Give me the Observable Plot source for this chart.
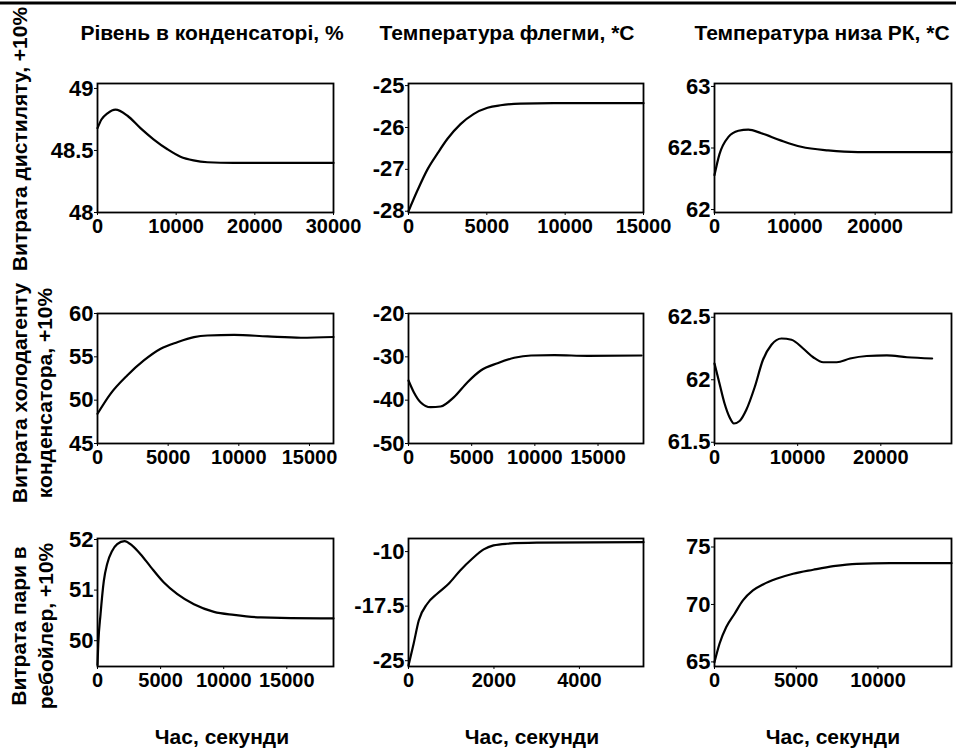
<!DOCTYPE html>
<html><head><meta charset="utf-8">
<script src="https://cdn.jsdelivr.net/npm/d3@7"></script>
<script src="https://cdn.jsdelivr.net/npm/@observablehq/plot@0.6"></script>
<style>
body{margin:0;background:#fff}
#chart{position:relative;width:956px;height:751px;overflow:hidden;background:#fff;font-family:"Liberation Sans",Arial,sans-serif}
#chart svg{position:absolute}
</style>
</head><body><div id="chart"></div>
<script>
// ---- texts ----
const colTitles = ["Рівень в конденсаторі, %", "Температура флегми, *C", "Температура низа РК, *C"];
const rowLabels = [["Витрата дистиляту, +10%"], ["Витрата холодагенту", "конденсатора, +10%"], ["Витрата пари в", "ребойлер, +10%"]];
const xAxisLabel = "Час, секунди";

// ---- data (time, s ; value) ----
const t11 = [0, 500, 1270, 2290, 3810, 5460, 7120, 8890, 10550, 12200, 13980, 17280, 30000];
const v11 = [48.68, 48.75, 48.80, 48.83, 48.78, 48.68, 48.59, 48.51, 48.45, 48.42, 48.405, 48.40, 48.40];
const t12 = [0, 575, 1213, 1852, 2490, 3320, 4150, 5045, 5875, 7150, 9260, 15000];
const v12 = [-28.0, -27.5, -27.0, -26.62, -26.27, -25.92, -25.68, -25.53, -25.47, -25.43, -25.42, -25.42];
const t13 = [0, 620, 1735, 2975, 4215, 5825, 8305, 10785, 14130, 17850, 29500];
const v13 = [62.28, 62.45, 62.59, 62.64, 62.65, 62.62, 62.56, 62.51, 62.48, 62.466, 62.466];

const t21 = [0, 920, 2100, 3280, 4470, 5650, 6830, 7780, 9670, 12040, 14400, 16700];
const v21 = [48.43, 50.73, 52.85, 54.58, 55.93, 56.69, 57.27, 57.46, 57.54, 57.35, 57.2, 57.29];
const t22 = [0, 420, 950, 1750, 2540, 3600, 4670, 5720, 7050, 8370, 9700, 11550, 14200, 18450];
const v22 = [-35.46, -38.16, -40.47, -41.62, -41.46, -39.3, -35.85, -33.15, -31.47, -30.22, -29.69, -29.62, -29.77, -29.69];
const t23 = [0, 600, 1210, 1810, 2330, 3020, 3830, 4830, 5830, 6850, 8050, 9260, 10660, 11870, 13080, 14700, 16300, 18320, 20730, 23150, 26170];
const v23 = [62.13, 61.97, 61.81, 61.70, 61.65, 61.67, 61.76, 61.94, 62.16, 62.28, 62.33, 62.32, 62.25, 62.18, 62.14, 62.14, 62.17, 62.19, 62.195, 62.18, 62.17];

const t31 = [0, 60, 240, 500, 770, 1170, 1560, 2140, 2750, 3410, 4210, 5260, 6330, 7640, 9230, 10820, 12940, 17700, 18700];
const v31 = [49.52, 49.93, 50.52, 51.18, 51.52, 51.78, 51.91, 51.97, 51.88, 51.71, 51.46, 51.15, 50.92, 50.72, 50.57, 50.51, 50.46, 50.44, 50.44];
const t32 = [0, 120, 240, 440, 670, 940, 1210, 1490, 1760, 1990, 2300, 3000, 5500];
const v32 = [-25.66, -22.67, -19.47, -17.17, -15.8, -14.42, -12.59, -10.98, -9.7, -9.15, -8.92, -8.78, -8.7];
const t33 = [0, 307, 720, 1230, 1740, 2350, 2970, 3790, 4810, 6040, 7270, 8710, 10750, 14500];
const v33 = [64.98, 66.58, 68.03, 69.19, 70.35, 71.22, 71.74, 72.23, 72.67, 73.02, 73.33, 73.54, 73.59, 73.59];

// ---- axis domains and ticks ----
const xDomains = [[0, 30000], [0, 15000], [0, 29500], [0, 16700], [0, 18600], [0, 28500], [0, 18700], [0, 5500], [0, 14500]];
const xTicks = [[0, 10000, 20000, 30000], [0, 5000, 10000, 15000], [0, 10000, 20000],
                [0, 5000, 10000, 15000], [0, 5000, 10000, 15000], [0, 10000, 20000],
                [0, 5000, 10000, 15000], [0, 2000, 4000], [0, 5000, 10000]];
const yDomains = [[48, 49.04], [-28.03, -24.95], [61.976, 63.024], [45, 60], [-50, -20], [61.49, 62.53], [49.49, 52.02], [-25.8, -8.2], [64.6, 75.74]];
const yTicks = [[48, 48.5, 49], [-28, -27, -26, -25], [62, 62.5, 63],
                [45, 50, 55, 60], [-50, -40, -30, -20], [61.5, 62, 62.5],
                [50, 51, 52], [-25, -17.5, -10], [65, 70, 75]];
const series = [[t11, v11], [t12, v12], [t13, v13], [t21, v21], [t22, v22], [t23, v23], [t31, v31], [t32, v32], [t33, v33]];

// ---- layout (pixels) ----
const colX = [97, 408, 714], colW = [236, 235, 237];
const rowY = [83, 313, 538], rowH = [129, 130, 128];
const FONT = '"Liberation Sans", Arial, sans-serif';
const chart = document.getElementById("chart");

// overlay texts
const ov = d3.create("svg").attr("width", 956).attr("height", 751).style("left", "0px").style("top", "0px")
  .style("font-family", FONT).style("font-size", "21px").style("font-weight", "bold");
ov.append("line").attr("x1", 0).attr("x2", 956).attr("y1", 3).attr("y2", 3).attr("stroke", "#000").attr("stroke-width", 3);
const titleX = [212, 507, 822];
colTitles.forEach((s, i) => ov.append("text").attr("x", titleX[i]).attr("y", 40).attr("text-anchor", "middle").text(s));
const xLabX = [222, 532, 833];
xLabX.forEach(x => ov.append("text").attr("x", x).attr("y", 744).attr("text-anchor", "middle").text(xAxisLabel));
const rowCY = [139, 393, 626];
const rowBase = [[27], [27, 52], [26, 53]];
rowLabels.forEach((lines, r) => lines.forEach((s, j) => {
  ov.append("text").attr("transform", `translate(${rowBase[r][j]},${rowCY[r]}) rotate(-90)`)
    .attr("text-anchor", "middle").text(s);
}));
chart.appendChild(ov.node());

// panels
const ML = 70, MR = 14, MT = 14, MB = 40;
series.forEach(([ts, vs], k) => {
  const r = Math.floor(k / 3), c = k % 3;
  const data = ts.map((t, i) => ({t, v: vs[i]}));
  const svg = Plot.plot({
    width: colW[c] + ML + MR, height: rowH[r] + MT + MB,
    marginLeft: ML, marginRight: MR, marginTop: MT, marginBottom: MB,
    style: {fontFamily: FONT, fontSize: "20px", fontWeight: "bold", color: "#000", background: "transparent", overflow: "visible"},
    x: {domain: xDomains[k]},
    y: {domain: yDomains[k]},
    marks: [
      Plot.axisX({ticks: xTicks[k], tickFormat: d => String(d), tickSize: 3, tickPadding: 3, fontSize: 20, label: null}),
      Plot.axisY({ticks: yTicks[k], tickFormat: d => String(d), tickSize: 3, tickPadding: 1, fontSize: 22, label: null}),
      Plot.line(data, {x: "t", y: "v", stroke: "#000", strokeWidth: 2.2, curve: "monotone-x"}),
      Plot.frame({stroke: "#000", strokeWidth: 1.8})
    ]
  });
  svg.style.left = (colX[c] - ML) + "px";
  svg.style.top = (rowY[r] - MT) + "px";
  chart.appendChild(svg);
});
</script></body></html>
